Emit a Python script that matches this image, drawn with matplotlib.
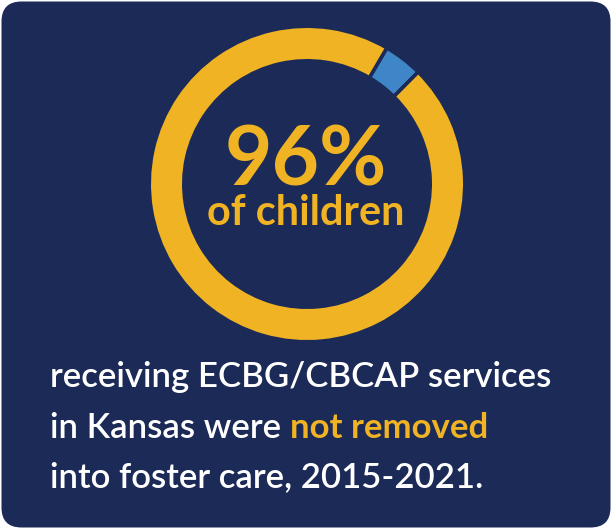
import matplotlib
matplotlib.use('Agg')
import matplotlib.pyplot as plt
from matplotlib.patches import FancyBboxPatch

# ---- data ----
shares = [4, 96]                      # % removed, % not removed
share_labels = ['removed', 'not removed']
headline = '96%'
subhead = 'of children'
line1 = 'receiving ECBG/CBCAP services'
line2a = 'in Kansas were'
line2b = 'not removed'
line3 = 'into foster care, 2015-2021.'

# ---- style ----
W, H = 612, 529
NAVY = '#1b2a57'
YELLOW = '#f0b323'
BLUE = '#3f86c8'
WHITE = '#ffffff'
FONT = 'Lato'

fig = plt.figure(figsize=(W / 100, H / 100), dpi=100)
fig.patch.set_facecolor('white')
ax = fig.add_axes([0, 0, 1, 1])

r = 20
bg = FancyBboxPatch((1.5 + r, 1.5 + r), W - 3 - 2 * r, H - 3 - 2 * r,
                    boxstyle=f'round,pad={r}', fc=NAVY, ec='none', zorder=0)
ax.add_patch(bg)

# donut
cx, cy = 307, H - 184
R_out, ring_w, gap = 156, 31, 3.6
ax.pie(shares, colors=[BLUE, YELLOW], startangle=59.6, counterclock=False,
       center=(cx, cy), radius=R_out + gap / 2,
       wedgeprops=dict(width=ring_w + gap, edgecolor=NAVY,
                       linewidth=gap * 72 / 100, zorder=2))

ax.set_xlim(0, W)
ax.set_ylim(0, H)
ax.set_aspect('auto')
ax.axis('off')

fig.canvas.draw()
renderer = fig.canvas.get_renderer()


def width_px(t):
    return t.get_window_extent(renderer=renderer).width


def fit(t, target):
    fs = t.get_fontsize()
    t.set_fontsize(fs * target / width_px(t))
    fs = t.get_fontsize()
    t.set_fontsize(fs * target / width_px(t))


t96 = ax.text(306, H - 185, headline, color=YELLOW, fontsize=60, fontweight='bold',
              family=FONT, ha='center', va='baseline', zorder=3)
fit(t96, 162)
tof = ax.text(306, H - 225, subhead, color=YELLOW, fontsize=28, fontweight='bold',
              family=FONT, ha='center', va='baseline', zorder=3)
fit(tof, 198)

x0 = 50
l1 = ax.text(x0, H - 387, line1, color=WHITE, fontsize=22, fontweight='semibold',
             family=FONT, ha='left', va='baseline', zorder=3)
fit(l1, 502)
fs = l1.get_fontsize()

l2a = ax.text(x0, H - 438, line2a, color=WHITE, fontsize=fs, fontweight='semibold',
              family=FONT, ha='left', va='baseline', zorder=3)
# width of a space
ta = ax.text(0, -100, 'a a', fontsize=fs, fontweight='semibold', family=FONT)
tb = ax.text(0, -100, 'aa', fontsize=fs, fontweight='semibold', family=FONT)
space = width_px(ta) - width_px(tb)
ta.remove(); tb.remove()
x2 = x0 + width_px(l2a) + space
ax.text(x2, H - 438, line2b, color=YELLOW, fontsize=fs, fontweight='bold',
        family=FONT, ha='left', va='baseline', zorder=3)
ax.text(x0, H - 487, line3, color=WHITE, fontsize=fs, fontweight='semibold',
        family=FONT, ha='left', va='baseline', zorder=3)

fig.savefig('out.png', dpi=100, facecolor='white')
